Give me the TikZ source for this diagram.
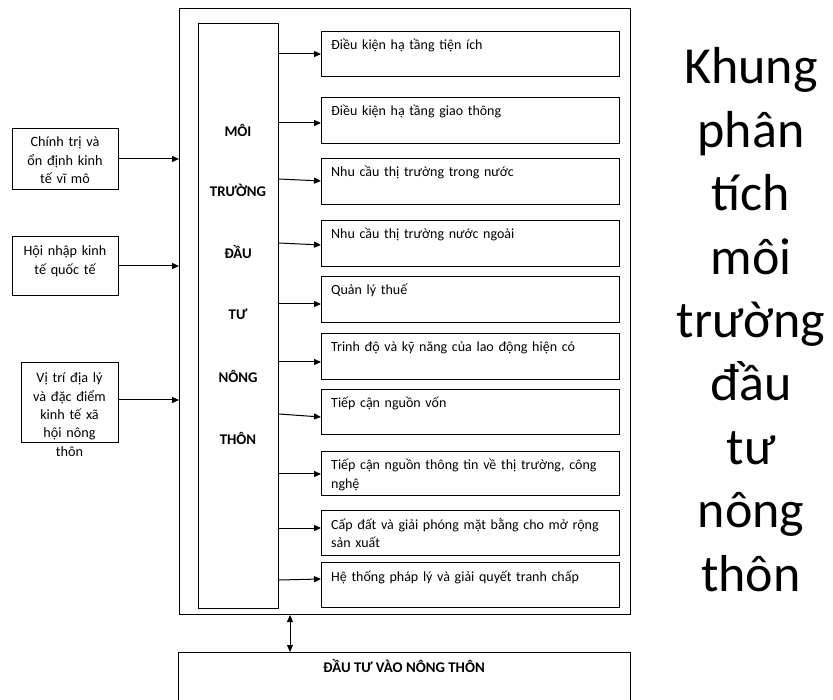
\documentclass[tikz,border=0pt]{standalone}
\usepackage{fontspec}
\setmainfont{Carlito}
\usetikzlibrary{arrows.meta}
\begin{document}
\begin{tikzpicture}[x=1pt,y=-1pt,
  box/.style={draw, line width=1pt, inner sep=0pt, anchor=north west},
  arr/.style={line width=1pt, -{Triangle[length=7pt,width=6pt]}},
  darr/.style={line width=1pt, {Triangle[length=7pt,width=6pt]}-{Triangle[length=7pt,width=6pt]}},
  rtext/.style={anchor=base west, inner sep=0pt, text width=285pt, align=left, font=\fontsize{14}{18.3}\selectfont},
  ltext/.style={anchor=base, inner sep=0pt, text width=100pt, align=center, font=\fontsize{14.2}{18.3}\selectfont},
  vlab/.style={anchor=base, inner sep=0pt, font=\fontsize{14.8}{17}\selectfont\bfseries},
  ttl/.style={anchor=base, inner sep=0pt, text width=180pt, align=center, font=\fontsize{52}{63.4}\selectfont},
]
\useasboundingbox (0,0) rectangle (833,700);
\clip (0,0) rectangle (833,700);
% main frame
\node[box, minimum width=451, minimum height=606] (outer) at (179,8) {};
\node[box, minimum width=80, minimum height=585] (inner) at (198,23) {};
% vertical labels
\node[vlab] (v1) at (238,137) {MÔI};
\node[vlab] (v2) at (238,197) {TRƯỜNG};
\node[vlab] (v3) at (238,259) {ĐẦU};
\node[vlab] (v4) at (238,320) {TƯ};
\node[vlab] (v5) at (238,383) {NÔNG};
\node[vlab] (v6) at (238,445) {THÔN};
% right boxes
\node[box, minimum width=298, minimum height=45] (b1) at (321,31) {};
\node[box, minimum width=298, minimum height=46] (b2) at (321,97) {};
\node[box, minimum width=298, minimum height=46] (b3) at (321,158) {};
\node[box, minimum width=298, minimum height=46] (b4) at (321,220) {};
\node[box, minimum width=298, minimum height=46] (b5) at (321,276) {};
\node[box, minimum width=298, minimum height=46] (b6) at (321,333) {};
\node[box, minimum width=298, minimum height=45] (b7) at (321,389) {};
\node[box, minimum width=298, minimum height=44] (b8) at (321,451) {};
\node[box, minimum width=298, minimum height=45] (b9) at (321,510) {};
\node[box, minimum width=298, minimum height=45] (b10) at (321,562) {};
\node[rtext] (t1) at (331,50) {Điều kiện hạ tầng tiện ích};
\node[rtext] (t2) at (331,116) {Điều kiện hạ tầng giao thông};
\node[rtext] (t3) at (331,177) {Nhu cầu thị trường trong nước};
\node[rtext] (t4) at (331,239) {Nhu cầu thị trường nước ngoài};
\node[rtext] (t5) at (331,295) {Quản lý thuế};
\node[rtext] (t6) at (331,352) {Trinh độ và kỹ năng của lao động hiện có};
\node[rtext] (t7) at (331,408) {Tiếp cận nguồn vốn};
\node[rtext] (t8) at (331,470) {Tiếp cận nguồn thông tin về thị trường, công\\nghệ};
\node[rtext] (t9) at (331,529) {Cấp đất và giải phóng mặt bằng cho mở rộng\\sản xuất};
\node[rtext] (t10) at (331,581) {Hệ thống pháp lý và giải quyết tranh chấp};
% arrows inner -> right boxes
\draw[arr] (inner.east |- 0,54) -- (b1.west |- 0,54);
\draw[arr] (inner.east |- 0,123) -- (b2.west |- 0,123);
\draw[arr] (inner.east |- 0,179) -- (b3.west |- 0,181);
\draw[arr] (inner.east |- 0,243) -- (b4.west |- 0,245);
\draw[arr] (inner.east |- 0,304) -- (b5.west |- 0,304);
\draw[arr] (inner.east |- 0,362) -- (b6.west |- 0,362);
\draw[arr] (inner.east |- 0,414) -- (b7.west |- 0,417);
\draw[arr] (inner.east |- 0,474) -- (b8.west |- 0,474);
\draw[arr] (inner.east |- 0,528) -- (b9.west |- 0,528);
\draw[arr] (inner.east |- 0,580) -- (b10.west |- 0,579);
% left boxes
\node[box, minimum width=106, minimum height=61] (l1) at (12,128) {};
\node[box, minimum width=106, minimum height=59] (l2) at (12,236) {};
\node[box, minimum width=97, minimum height=80] (l3) at (21,362) {};
\node[ltext] (lt1) at (65,147) {Chính trị và\\ổn định kinh\\tế vĩ mô};
\node[ltext] (lt2) at (65,256) {Hội nhập kinh\\tế quốc tế};
\node[ltext] (lt3) at (69.5,383) {Vị trí địa lý\\và đặc điểm\\kinh tế xã\\hội nông\\thôn};
\draw[arr] (l1.east |- 0,159) -- (outer.west |- 0,159);
\draw[arr] (l2.east |- 0,266) -- (outer.west |- 0,266);
\draw[arr] (l3.east |- 0,400) -- (outer.west |- 0,400);
% bottom box
\node[box, minimum width=452, minimum height=70] (bot) at (178,652) {};
\node[anchor=base, inner sep=0pt, font=\fontsize{14.8}{17}\selectfont\bfseries] (bt) at (404,672) {ĐẦU TƯ VÀO NÔNG THÔN};
\draw[darr] (290,0 |- outer.south) -- (290,0 |- bot.north);
% title
\node[ttl] (title) at (751,84) {Khung\\phân\\tích\\môi\\trường\\đầu\\tư\\nông\\thôn};
\end{tikzpicture}
\end{document}
